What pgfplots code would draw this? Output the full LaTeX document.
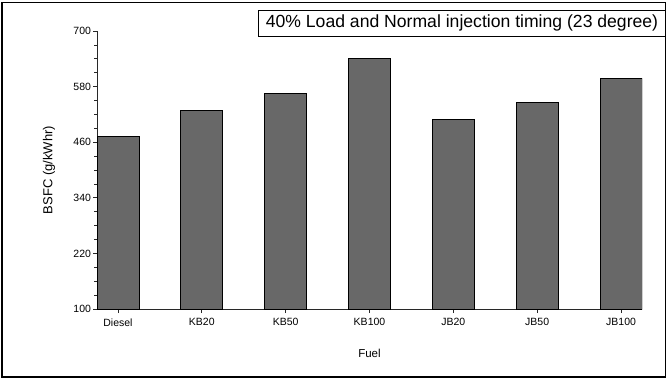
\documentclass[border=0pt]{standalone}
\usepackage{fontspec}
\setmainfont{Liberation Sans}
\usepackage{pgfplots}
\pgfplotsset{compat=1.18}
\definecolor{barfill}{RGB}{104,104,104}
\definecolor{axisgray}{RGB}{40,40,40}

\begin{document}
\begin{tikzpicture}[x=1bp,y=1bp]
\useasboundingbox (0,0) rectangle (667,379);
% outer frame
\draw[line width=1.3bp] (2,2) rectangle (665.5,376.5);
% title box
\draw[line width=0.9bp, fill=white] (258,343) rectangle (665,369);
\node[anchor=center, font=\fontsize{17.6bp}{20bp}\selectfont] at (462,356) {40\% Load and Normal injection timing (23 degree)};

\begin{axis}[
  at={(97bp,70bp)}, anchor=south west,
  scale only axis, width=545bp, height=278bp,
  xmin=-0.25, xmax=6.25, ymin=100, ymax=700,
  axis x line*=bottom, axis y line*=left,
  axis line style={line width=0.9bp, color=axisgray},
  ytick={100,220,...,700}, minor y tick num=3,
  xtick={0,...,6},
  xticklabels={Diesel,KB20,KB50,KB100,JB20,JB50,JB100},
  tick align=outside,
  major tick length=4bp, minor tick length=3bp,
  tick style={line width=0.8bp, color=axisgray},
  ticklabel style={font=\fontsize{10.5bp}{12bp}\selectfont},
  yticklabel style={xshift=1.5bp},
  xticklabel style={yshift=-2bp},
  /pgf/number format/assume math mode=true,
  xlabel={Fuel}, ylabel={BSFC (g/kWhr)},
  xlabel style={font=\fontsize{11.5bp}{13bp}\selectfont, at={(axis description cs:0.5,-0.158)}, anchor=center},
  ylabel style={font=\fontsize{13bp}{15bp}\selectfont, at={(axis description cs:-0.088,0.5)}, anchor=center},
  clip=true,
]
\addplot[ybar, bar width=42bp, fill=barfill, draw=black, line width=0.8bp]
  coordinates {(0,472) (1,529) (2,565) (3,640) (4,510) (5,545) (6,597)};
\end{axis}
\end{tikzpicture}
\end{document}
